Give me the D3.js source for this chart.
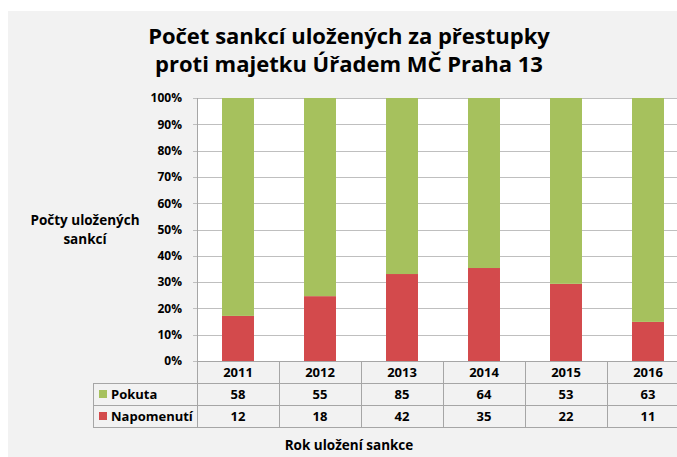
<!DOCTYPE html>
<html>
<head>
<meta charset="utf-8">
<script src="https://cdn.jsdelivr.net/npm/d3@7"></script>
<style>
  body { margin: 0; background: #fff; }
  svg text { font-family: 'Open Sans', 'Noto Sans', sans-serif; font-weight: bold; fill: #000; }
</style>
</head>
<body>
<div id="chart"></div>
<script>
const years = ['2011', '2012', '2013', '2014', '2015', '2016'];
const pokuta = [58, 55, 85, 64, 53, 63];
const napomenuti = [12, 18, 42, 35, 22, 11];
const seriesNames = ['Pokuta', 'Napomenutí'];
const yTicks = [0, 0.1, 0.2, 0.3, 0.4, 0.5, 0.6, 0.7, 0.8, 0.9, 1];

const colorInfo = {
  green: '#a6c15d',
  red: '#d34a4c',
  bg: '#f2f2f2',
  grid: '#bfbfbf',
  border: '#a6a6a6',
};

const width = 677;
const height = 457;
const plot = { left: 197, right: 689, top: 98, bottom: 361 };
const rowH = 22;

const svg = d3.select('#chart')
  .append('svg')
  .attr('width', width)
  .attr('height', height);

svg.append('rect')
  .attr('x', 8).attr('y', 11)
  .attr('width', width - 8).attr('height', height - 11)
  .attr('fill', colorInfo.bg);

svg.append('rect')
  .attr('x', plot.left).attr('y', plot.top)
  .attr('width', plot.right - plot.left).attr('height', plot.bottom - plot.top)
  .attr('fill', '#fff');

const x = d3.scaleBand()
  .domain(years)
  .range([plot.left, plot.right])
  .paddingInner(0.61)
  .paddingOuter(0.305);

const xCat = d3.scaleBand()
  .domain(years)
  .range([plot.left, plot.right]);

const y = d3.scaleLinear()
  .domain([0, 1])
  .range([plot.bottom, plot.top]);

// gridlines
svg.append('g')
  .selectAll('line')
  .data(yTicks)
  .join('line')
    .attr('x1', plot.left - 4)
    .attr('x2', plot.right)
    .attr('y1', d => Math.round(y(d)) + 0.5)
    .attr('y2', d => Math.round(y(d)) + 0.5)
    .attr('stroke', colorInfo.grid);

const yAxis = svg.append('g')
  .attr('transform', `translate(${plot.left - 4},0)`)
  .call(d3.axisLeft(y).tickValues(yTicks).tickFormat(d3.format('.0%')).tickSize(0).tickPadding(11));
yAxis.select('.domain').remove();
yAxis.selectAll('text').style('font-size', '12px');

const stackData = years.map((yr, i) => {
  const total = pokuta[i] + napomenuti[i];
  return { year: yr, Napomenutí: napomenuti[i] / total, Pokuta: pokuta[i] / total };
});

const stacked = d3.stack().keys(['Napomenutí', 'Pokuta'])(stackData);
const color = d3.scaleOrdinal().domain(['Pokuta', 'Napomenutí']).range([colorInfo.green, colorInfo.red]);

svg.append('g')
  .selectAll('g')
  .data(stacked)
  .join('g')
    .attr('fill', d => color(d.key))
  .selectAll('rect')
  .data(d => d)
  .join('rect')
    .attr('x', d => x(d.data.year))
    .attr('width', x.bandwidth())
    .attr('y', d => y(d[1]))
    .attr('height', d => y(d[0]) - y(d[1]));

// y axis line
svg.append('line')
  .attr('x1', plot.left + 0.5).attr('x2', plot.left + 0.5)
  .attr('y1', plot.top).attr('y2', plot.bottom + rowH * 3)
  .attr('stroke', colorInfo.border);

// data table
const table = svg.append('g');
const rows = [pokuta, napomenuti];
const legendLeft = 93;

table.selectAll('line.v')
  .data(years.slice(1))
  .join('line')
    .attr('class', 'v')
    .attr('x1', d => Math.round(xCat(d)) + 0.5)
    .attr('x2', d => Math.round(xCat(d)) + 0.5)
    .attr('y1', plot.bottom)
    .attr('y2', plot.bottom + rowH * 3)
    .attr('stroke', colorInfo.border);

table.selectAll('line.h')
  .data([0, 1, 2, 3])
  .join('line')
    .attr('class', 'h')
    .attr('x1', d => (d === 0 ? plot.left : legendLeft))
    .attr('x2', plot.right)
    .attr('y1', d => plot.bottom + rowH * d + 0.5)
    .attr('y2', d => plot.bottom + rowH * d + 0.5)
    .attr('stroke', colorInfo.border);

table.append('line')
  .attr('x1', legendLeft + 0.5).attr('x2', legendLeft + 0.5)
  .attr('y1', plot.bottom + rowH).attr('y2', plot.bottom + rowH * 3)
  .attr('stroke', colorInfo.border);

table.selectAll('text.year')
  .data(years)
  .join('text')
    .attr('class', 'year')
    .attr('x', d => xCat(d) + xCat.bandwidth() / 2)
    .attr('y', plot.bottom + rowH / 2 + 5)
    .attr('text-anchor', 'middle')
    .style('font-size', '13px')
    .text(d => d);

rows.forEach((vals, r) => {
  table.append('g')
    .selectAll('text')
    .data(vals)
    .join('text')
      .attr('x', (d, i) => xCat(years[i]) + xCat.bandwidth() / 2)
      .attr('y', plot.bottom + rowH * (r + 1) + rowH / 2 + 5)
      .attr('text-anchor', 'middle')
      .style('font-size', '13px')
      .text(d => d);

  table.append('rect')
    .attr('x', 99)
    .attr('y', plot.bottom + rowH * (r + 1) + rowH / 2 - 4)
    .attr('width', 8)
    .attr('height', 8)
    .attr('fill', color(seriesNames[r]));

  table.append('text')
    .attr('x', 111)
    .attr('y', plot.bottom + rowH * (r + 1) + rowH / 2 + 5)
    .style('font-size', '13px')
    .text(seriesNames[r]);
});

// titles
const title = svg.append('text')
  .attr('text-anchor', 'middle')
  .style('font-size', '22px');
title.append('tspan').attr('x', 349).attr('y', 44).text('Počet sankcí uložených za přestupky');
title.append('tspan').attr('x', 349).attr('y', 72).text('proti majetku Úřadem MČ Praha 13');

const yTitle = svg.append('text')
  .attr('text-anchor', 'middle')
  .style('font-size', '13.5px');
yTitle.append('tspan').attr('x', 85).attr('y', 225).text('Počty uložených');
yTitle.append('tspan').attr('x', 85).attr('y', 244).text('sankcí');

svg.append('text')
  .attr('x', 349)
  .attr('y', 450)
  .attr('text-anchor', 'middle')
  .style('font-size', '13.5px')
  .text('Rok uložení sankce');
</script>
</body>
</html>
